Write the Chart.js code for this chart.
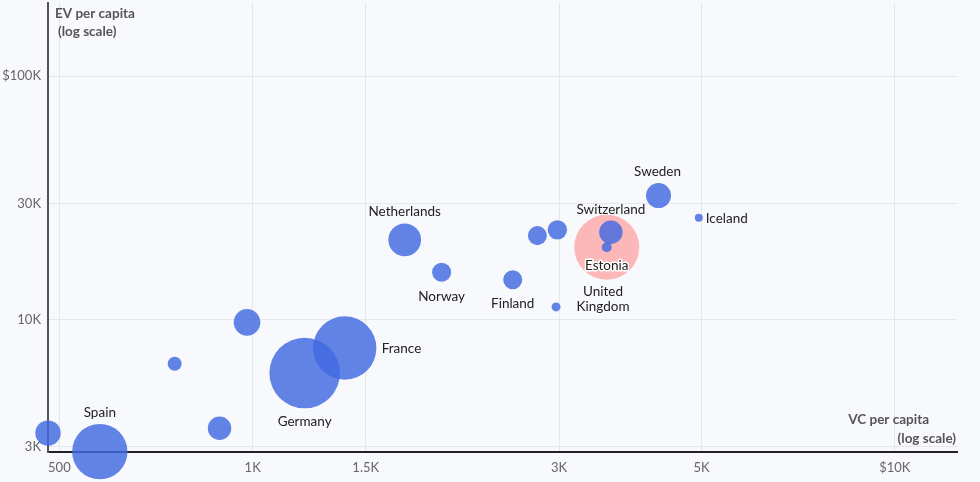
<!DOCTYPE html>
<html>
<head>
<meta charset="utf-8">
<script src="https://cdn.jsdelivr.net/npm/chart.js@4.4.1/dist/chart.umd.min.js"></script>
<style>
  html, body { margin: 0; padding: 0; background: #f8f9fc; }
  #wrap { width: 980px; height: 482px; }
</style>
</head>
<body>
<div id="wrap"><canvas id="ev-chart" width="980" height="482"></canvas></div>
<script>
// countries (unlabelled bubbles have no name shown)
const countries = ['', 'Spain', '', '', '', 'Germany', 'France', 'Netherlands', 'Norway',
    'Finland', '', '', 'United Kingdom', 'Estonia', 'Switzerland', 'Sweden', 'Iceland'];
const vcPerCapita = [480, 578, 756, 980, 888, 1205, 1391, 1725, 1969,
    2541, 2776, 2982, 2968, 3560, 3613, 4286, 4952];
const evPerCapita = [3420, 2870, 6590, 9750, 3580, 6035, 7645, 21270, 15650,
    14600, 22150, 23390, 11280, 19830, 22850, 32360, 26200];
const bubbleValue = [13.2, 62.6, 4.0, 14.4, 11.2, 101.7, 82.0, 21.7, 7.4,
    7.4, 7.4, 7.7, 1.65, 2.0, 11.2, 12.8, 1.3];
const highlighted = ['Estonia'];

const xTickValues = [500, 1000, 1500, 3000, 5000, 10000];
const xTickLabels = ['500', '1K', '1.5K', '3K', '5K', '$10K'];
const yTickValues = [3000, 10000, 30000, 100000];
const yTickLabels = ['3K', '10K', '30K', '$100K'];

const FONT = 'Lato';
const bubbleScale = 3.5;
const highlightRadius = 32.5;

const points = countries.map((name, i) => ({
    x: vcPerCapita[i],
    y: evPerCapita[i],
    r: Math.sqrt(bubbleValue[i]) * bubbleScale
}));
const highlightPoints = highlighted.map(name => {
    const i = countries.indexOf(name);
    return { x: vcPerCapita[i], y: evPerCapita[i], r: highlightRadius };
});

// where each country name sits relative to its bubble
const labelStyle = {
    'Spain': { dx: 0, dy: -39 },
    'Germany': { dx: 0, dy: 49 },
    'France': { dx: 37, dy: 1, align: 'left' },
    'Netherlands': { dx: 0, dy: -28 },
    'Norway': { dx: 0, dy: 24 },
    'Finland': { dx: 0, dy: 24 },
    'United Kingdom': { dx: 47, dy: -15, lines: ['United', 'Kingdom'] },
    'Estonia': { dx: 0, dy: 18, halo: true },
    'Switzerland': { dx: 0, dy: -23 },
    'Sweden': { dx: -1, dy: -24 },
    'Iceland': { dx: 7, dy: 1, align: 'left' }
};

const countryLabels = {
    id: 'countryLabels',
    afterDatasetsDraw(chart) {
        const ctx = chart.ctx;
        const meta = chart.getDatasetMeta(0);
        ctx.save();
        ctx.font = '13.5px ' + FONT;
        ctx.fillStyle = '#222';
        ctx.textBaseline = 'middle';
        countries.forEach((name, i) => {
            const st = labelStyle[name];
            if (!name || !st) return;
            const el = meta.data[i];
            const lines = st.lines || [name];
            ctx.textAlign = st.align || 'center';
            lines.forEach((line, j) => {
                const x = el.x + st.dx;
                const y = el.y + st.dy + j * 15;
                if (st.halo) {
                    ctx.strokeStyle = '#fff';
                    ctx.lineWidth = 3;
                    ctx.lineJoin = 'round';
                    ctx.strokeText(line, x, y);
                }
                ctx.fillText(line, x, y);
            });
        });
        ctx.restore();
    }
};

const axisTitles = {
    id: 'axisTitles',
    afterDraw(chart) {
        const ctx = chart.ctx;
        const a = chart.chartArea;
        ctx.save();
        ctx.font = 'bold 13.5px ' + FONT;
        ctx.fillStyle = '#555';
        ctx.textBaseline = 'middle';
        ctx.textAlign = 'left';
        ctx.fillText('EV per capita', a.left + 7, a.top + 11);
        ctx.fillText('(log scale)', a.left + 10, a.top + 29);
        ctx.textAlign = 'right';
        ctx.fillText('VC per capita', a.right - 28, a.bottom - 32);
        ctx.fillText('(log scale)', a.right - 1, a.bottom - 13);
        ctx.restore();
    }
};

const ctx = document.getElementById('ev-chart').getContext('2d');
new Chart(ctx, {
    type: 'bubble',
    data: {
        datasets: [{
            label: 'Countries',
            data: points,
            backgroundColor: 'rgba(65, 105, 225, 0.82)',
            borderWidth: 0,
            clip: false
        }, {
            label: 'Highlight',
            data: highlightPoints,
            backgroundColor: 'rgba(255, 130, 130, 0.55)',
            borderWidth: 0,
            clip: false
        }]
    },
    options: {
        responsive: false,
        animation: false,
        events: [],
        layout: { autoPadding: false, padding: { top: 3, right: 23, left: 0, bottom: 0 } },
        plugins: {
            legend: { display: false },
            tooltip: { enabled: false }
        },
        scales: {
            x: {
                type: 'logarithmic',
                min: 480,
                max: 12500,
                bounds: 'data',
                afterBuildTicks: scale => {
                    scale.ticks = xTickValues.map(v => ({ value: v }));
                },
                afterFit: scale => {
                    scale.height = 30;
                    scale.paddingLeft = 0;
                    scale.paddingRight = 0;
                },
                grid: { color: '#e6e7eb', drawTicks: false },
                border: { display: true, color: '#222', width: 2 },
                ticks: {
                    autoSkip: false,
                    maxRotation: 0,
                    padding: 8,
                    color: '#666',
                    font: { family: FONT, size: 13 },
                    callback: value => xTickLabels[xTickValues.indexOf(value)]
                }
            },
            y: {
                type: 'logarithmic',
                min: 2860,
                max: 200000,
                bounds: 'data',
                afterBuildTicks: scale => {
                    scale.ticks = yTickValues.map(v => ({ value: v }));
                },
                afterFit: scale => {
                    scale.width = 48;
                    scale.paddingTop = 0;
                    scale.paddingBottom = 0;
                },
                grid: { color: '#e6e7eb', drawTicks: false },
                border: { display: true, color: '#555', width: 2 },
                ticks: {
                    autoSkip: false,
                    padding: 7,
                    color: '#666',
                    font: { family: FONT, size: 13 },
                    callback: value => yTickLabels[yTickValues.indexOf(value)]
                }
            }
        }
    },
    plugins: [countryLabels, axisTitles]
});
</script>
</body>
</html>
